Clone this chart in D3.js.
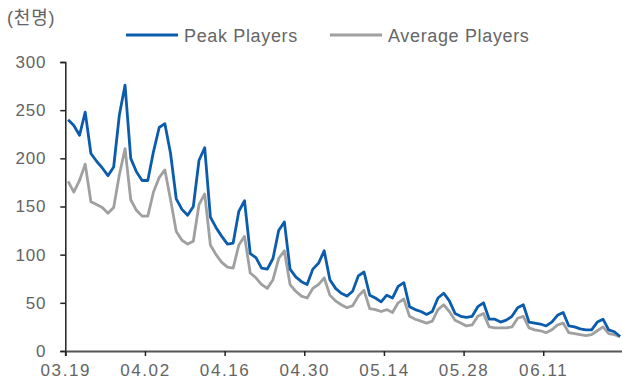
<!DOCTYPE html>
<html><head><meta charset="utf-8">
<script src="https://cdn.jsdelivr.net/npm/d3@7/dist/d3.min.js"></script>
<style>
html,body{margin:0;padding:0;background:#fff;}
svg{display:block;}
text{font-family:"Liberation Sans","Noto Sans CJK KR",sans-serif;}
</style></head>
<body><svg id="c" width="622" height="385"></svg>
<script>
const peakPlayers = [240,234,224,248,205,197,190,182,191,245,276,200,186,177,177,207,232,236,205,158,
147,141,150,198,211,139,128,119,111,112,145,156,101,97,86,85,96,125,134,85,
77,72,69,85,91,104,74,65,60,57,62,78,82,58,55,51,58,55,67,71,
46,43,41,38,41,55,60,52,39,36,35,36,46,50,33,33,30,32,36,45,
48,30,29,28,26,30,37,40,26,25,23,22,22,30,33,22,20,15];
const averagePlayers = [176,165,177,194,155,152,149,143,149,183,210,157,146,140,140,165,180,188,157,124,
115,111,114,152,163,110,100,92,87,86,110,119,81,76,69,65,74,96,104,69,
62,57,55,65,69,76,58,52,48,45,47,57,63,44,43,41,43,40,50,54,
36,33,31,29,31,43,48,41,32,29,26,27,36,39,25,24,24,24,25,34,
36,24,22,21,19,22,27,29,19,18,17,16,17,21,25,18,17,15];
const tickLabels = ["03.19","04.02","04.16","04.30","05.14","05.28","06.11"];
const yTicks = [0,50,100,150,200,250,300];
const seriesNames = ["Peak Players","Average Players"];
const unitLabel = "(천명)";

const svg = d3.select("#c");
const x0 = 65.3, x1 = 622.9, yTop = 62, yBot = 351;
const nDays = 98;
const x = d3.scaleLinear().domain([0, nDays]).range([x0, x1]);
const y = d3.scaleLinear().domain([0, 300]).range([yBot, yTop]);
const colors = ["#0b5cad", "#a0a0a0"];
const textColor = "#646464";

// y axis
const yAxis = d3.axisLeft(y).tickValues(yTicks).tickSize(5).tickPadding(14).tickFormat(d3.format("d"));
const gy = svg.append("g").attr("transform", `translate(${x0},0)`).call(yAxis);
gy.select(".domain").attr("stroke", "#222").attr("stroke-width", 1.5);
gy.selectAll(".tick line").attr("stroke", "#222").attr("stroke-width", 1.5);
gy.selectAll("text").attr("font-size", 17).attr("fill", textColor).style("letter-spacing", "0.8px");

// x axis
const tickIdx = tickLabels.map((d, i) => i * 14);
const xAxis = d3.axisBottom(x).tickValues(tickIdx).tickSize(5).tickPadding(8)
  .tickFormat((d, i) => tickLabels[i]);
const gx = svg.append("g").attr("transform", `translate(0,${yBot})`).call(xAxis);
gx.select(".domain").attr("stroke", "#555").attr("stroke-width", 2);
gx.selectAll(".tick line").attr("stroke", "#222").attr("stroke-width", 1.5);
gx.selectAll("text").attr("font-size", 17).attr("fill", textColor).style("letter-spacing", "1.6px");

// lines
const line = d3.line().x((d, i) => x(i + 0.5)).y(d => y(d));
[averagePlayers, peakPlayers].forEach((s, k) => {
  svg.append("path").datum(s).attr("d", line).attr("fill", "none")
    .attr("stroke", k === 0 ? colors[1] : colors[0]).attr("stroke-width", 2.8)
    .attr("stroke-linejoin", "round");
});

// unit label
svg.append("text").attr("x", 7).attr("y", 24).attr("font-size", 18).attr("fill", textColor)
  .style("letter-spacing", "0.8px").text(unitLabel);

// legend
const legX = [126, 330];
seriesNames.forEach((n, i) => {
  svg.append("line").attr("x1", legX[i]).attr("x2", legX[i] + 52).attr("y1", 35).attr("y2", 35)
    .attr("stroke", colors[i]).attr("stroke-width", 2.8);
  svg.append("text").attr("x", legX[i] + 58).attr("y", 41.5).attr("font-size", 18)
    .attr("fill", "#666").style("letter-spacing", "0.65px").text(n);
});
</script></body></html>
